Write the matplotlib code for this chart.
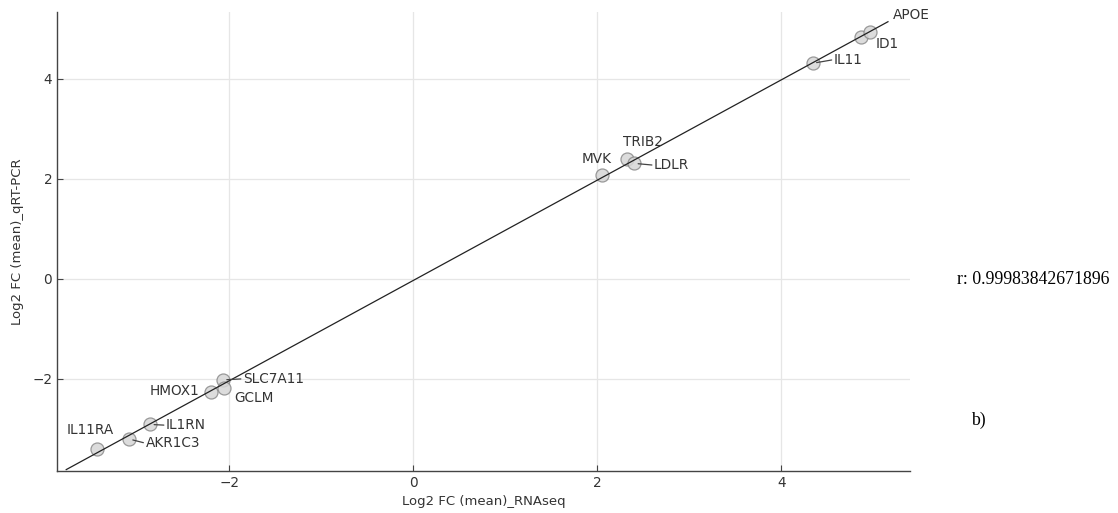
import numpy as np
import matplotlib
matplotlib.use("Agg")
import matplotlib.pyplot as plt

genes = ["IL11RA", "AKR1C3", "IL1RN", "HMOX1", "SLC7A11", "GCLM",
         "MVK", "TRIB2", "LDLR", "IL11", "ID1", "APOE"]
rnaseq = [-3.44, -3.09, -2.86, -2.20, -2.07, -2.06, 2.05, 2.32, 2.40, 4.34, 4.87, 4.97]
qpcr = [-3.41, -3.20, -2.91, -2.27, -2.02, -2.19, 2.08, 2.39, 2.31, 4.31, 4.83, 4.93]
# label offsets in points (dx, dy), alignment, leader line flag
label_offsets = {
    "IL11RA": (-21.5, 14, "left", False),
    "AKR1C3": (12, -2.7, "left", True),
    "IL1RN": (11.5, -0.5, "left", True),
    "HMOX1": (-8.4, 0.7, "right", False),
    "SLC7A11": (14.6, 0.7, "left", True),
    "GCLM": (7.7, -7, "left", False),
    "MVK": (-14.4, 11.5, "left", False),
    "TRIB2": (-2.9, 12.7, "left", False),
    "LDLR": (14.4, -1.2, "left", True),
    "IL11": (15.3, 2.4, "left", True),
    "ID1": (10, -4.8, "left", False),
    "APOE": (15.8, 12.5, "left", False),
}
r_text = "r: 0.99983842671896"
panel = "b)"
xticks = [-2, 0, 2, 4]
yticks = [-2, 0, 2, 4]

fig = plt.figure(figsize=(11.18, 5.13), dpi=100)
ax = fig.add_axes([0.051, 0.082, 0.763, 0.895])

x = np.array(rnaseq)
y = np.array(qpcr)
slope, intercept = np.polyfit(x, y, 1)
xl = np.array([x.min() - 0.33, x.max() + 0.19])
ax.plot(xl, slope * xl + intercept, color="#222222", lw=0.9, zorder=4)

ax.scatter(x, y, s=88, facecolor="#d6d6d6", edgecolor="#8a8a8a", lw=0.9, alpha=0.85, zorder=3)

for g, xi, yi in zip(genes, x, y):
    dx, dy, ha, lead = label_offsets[g]
    ax.annotate(g, (xi, yi), xytext=(dx, dy), textcoords="offset points",
                ha=ha, va="center", fontsize=9.8, color="#333333", zorder=5)
    if lead:
        ax.annotate("", (xi, yi), xytext=(dx - 1.5, dy), textcoords="offset points",
                    arrowprops=dict(arrowstyle="-", color="#444444", lw=0.9,
                                    shrinkA=0, shrinkB=3), zorder=5)

ax.set_xlim(-3.87, 5.40)
ax.set_ylim(-3.84, 5.34)
ax.set_xticks(xticks)
ax.set_yticks(yticks)
ax.grid(True, color="#e6e6e6", lw=0.9)
ax.set_axisbelow(True)
for s in ["top", "right"]:
    ax.spines[s].set_visible(False)
for s in ["left", "bottom"]:
    ax.spines[s].set_color("#444444")
    ax.spines[s].set_linewidth(1.0)
ax.tick_params(direction="in", length=4, color="#444444", labelsize=9.8, labelcolor="#333333")
ax.set_xlabel("Log2 FC (mean)_RNAseq", fontsize=9.5, color="#333333", labelpad=4)
ax.set_ylabel("Log2 FC (mean)_qRT-PCR", fontsize=9.5, color="#333333", labelpad=6)

fig.text(0.856, 0.456, r_text, family="Liberation Serif", fontsize=12.8, va="center", ha="left")
fig.text(0.869, 0.181, panel, family="Liberation Serif", fontsize=12.8, va="center", ha="left")

fig.savefig("out.png", dpi=100)
